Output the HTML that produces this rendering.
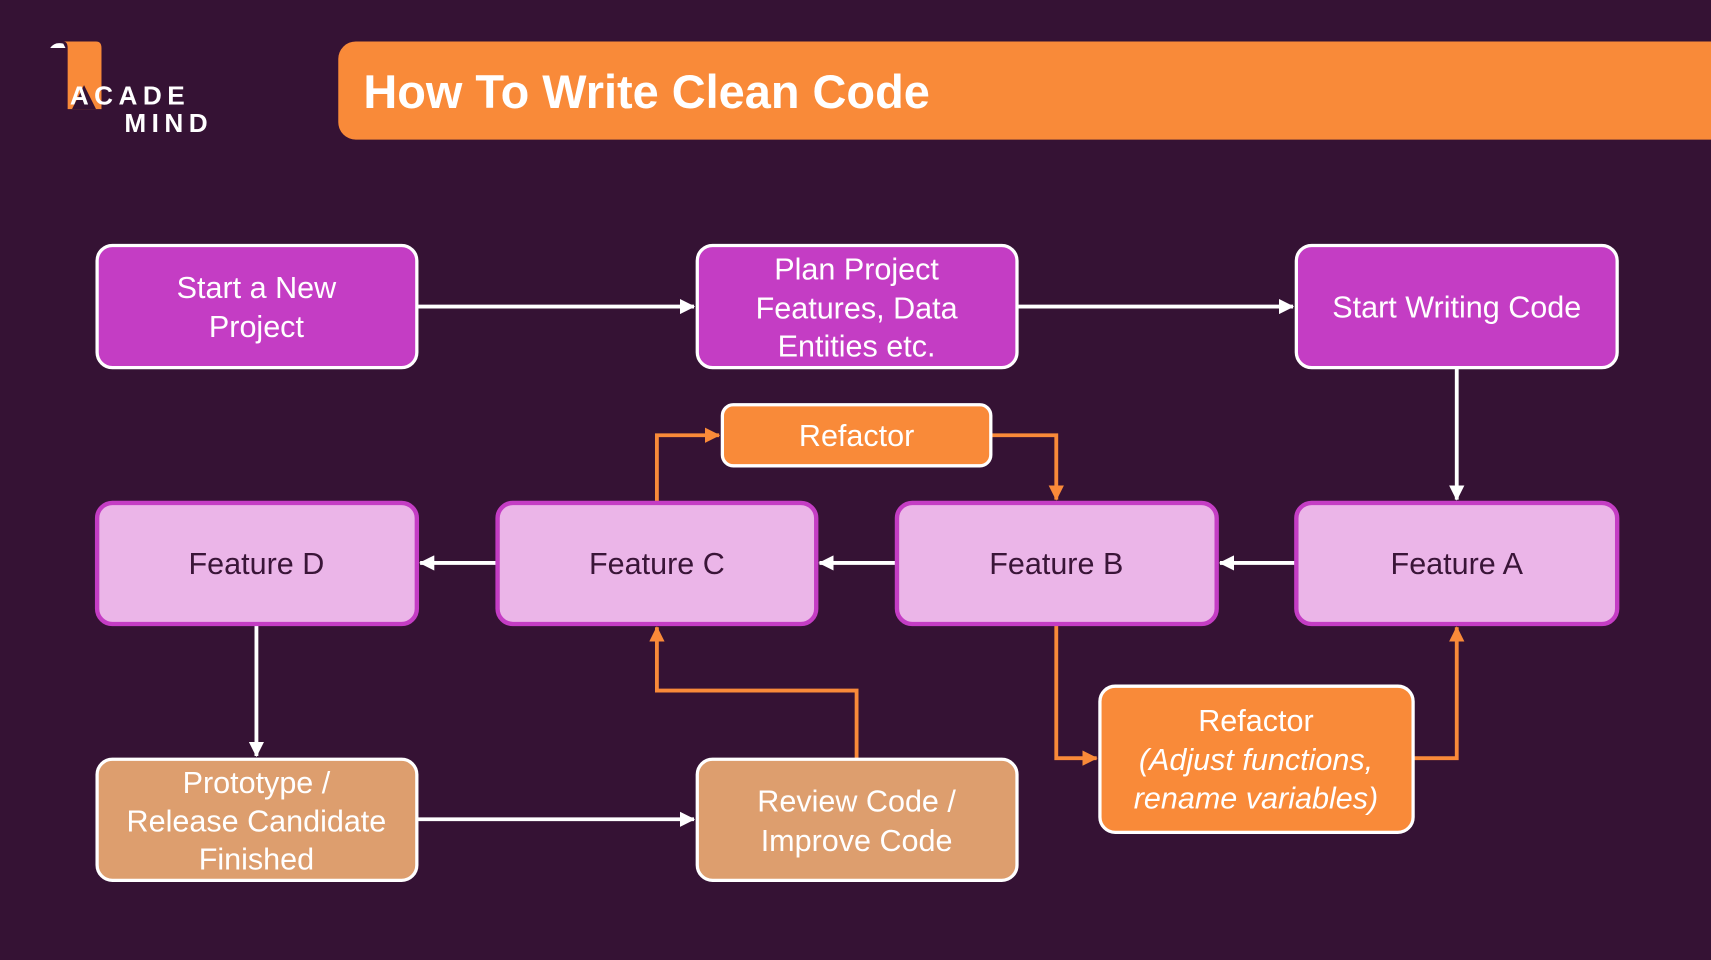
<!DOCTYPE html>
<html><head><meta charset="utf-8"><style>
html,body{margin:0;padding:0;background:#351234;}
svg{display:block}
text{font-family:"Liberation Sans",sans-serif;}
</style></head><body>
<svg width="1711" height="960" viewBox="0 0 1568 880" preserveAspectRatio="none" xmlns="http://www.w3.org/2000/svg">
<defs>
<marker id="aW" markerWidth="14" markerHeight="14" refX="13" refY="7" orient="auto" markerUnits="userSpaceOnUse"><path d="M0,0 L14,7 L0,14 z" fill="#fff"/></marker>
<marker id="aO" markerWidth="14" markerHeight="14" refX="13" refY="7" orient="auto" markerUnits="userSpaceOnUse"><path d="M0,0 L14,7 L0,14 z" fill="#f98a39"/></marker>
</defs>
<rect width="1568" height="880" fill="#351234"/>
<!-- logo -->
<path d="M58,38 L88,38 Q93,38 93,44 L93,100 L62,100 L62,44 Q62,38 58,38 Z" fill="#f98a39"/>
<path d="M46,44 Q50,38 58,40 L60,44 Z" fill="#fff"/>
<path d="M66,100 L77,78 L88,100 Z" fill="#351234"/>
<text x="64" y="96" font-size="24" font-weight="bold" fill="#fff" letter-spacing="5">ACADE</text>
<text x="114" y="121" font-size="24" font-weight="bold" fill="#fff" letter-spacing="5">MIND</text>
<!-- title -->
<rect x="310" y="38" width="1300" height="90" rx="16" fill="#f98a39"/>
<text x="333" y="99" font-size="43" font-weight="bold" fill="#fff">How To Write Clean Code</text>
<g stroke="#fff" stroke-width="3.5" fill="none">
<line x1="382" y1="281" x2="636" y2="281" marker-end="url(#aW)"/>
<line x1="932" y1="281" x2="1185" y2="281" marker-end="url(#aW)"/>
<line x1="1335" y1="337" x2="1335" y2="458" marker-end="url(#aW)"/>
<line x1="1188" y1="516" x2="1118" y2="516" marker-end="url(#aW)"/>
<line x1="822" y1="516" x2="751" y2="516" marker-end="url(#aW)"/>
<line x1="456" y1="516" x2="385" y2="516" marker-end="url(#aW)"/>
<line x1="235" y1="572" x2="235" y2="693" marker-end="url(#aW)"/>
<line x1="382" y1="751" x2="636" y2="751" marker-end="url(#aW)"/>
</g>
<g stroke="#f98a39" stroke-width="3.5" fill="none">
<polyline points="602,461 602,399 659,399" marker-end="url(#aO)"/>
<polyline points="908,399 968,399 968,458" marker-end="url(#aO)"/>
<polyline points="968,572 968,695 1005,695" marker-end="url(#aO)"/>
<polyline points="1295,695 1335,695 1335,575" marker-end="url(#aO)"/>
<polyline points="785,696 785,633 602,633 602,575" marker-end="url(#aO)"/>
</g>
<g stroke="#fff" stroke-width="3">
<rect x="89" y="225" width="293" height="112" rx="14" fill="#c43dc4"/>
<rect x="639" y="225" width="293" height="112" rx="14" fill="#c43dc4"/>
<rect x="1188" y="225" width="294" height="112" rx="14" fill="#c43dc4"/>
<rect x="662" y="371" width="246" height="56" rx="10" fill="#f98a39"/>
<rect x="89" y="696" width="293" height="111" rx="14" fill="#dd9e6e"/>
<rect x="639" y="696" width="293" height="111" rx="14" fill="#dd9e6e"/>
<rect x="1008" y="629" width="287" height="134" rx="14" fill="#f98a39"/>
</g>
<g stroke="#c43dc4" stroke-width="4" fill="#ebb5e8">
<rect x="89" y="461" width="293" height="111" rx="14"/>
<rect x="456" y="461" width="292" height="111" rx="14"/>
<rect x="822" y="461" width="293" height="111" rx="14"/>
<rect x="1188" y="461" width="294" height="111" rx="14"/>
</g>
<g font-size="28" fill="#fff" text-anchor="middle">
<text x="235" y="273">Start a New</text><text x="235" y="309">Project</text>
<text x="785" y="256">Plan Project</text><text x="785" y="292">Features, Data</text><text x="785" y="327">Entities etc.</text>
<text x="1335" y="291">Start Writing Code</text>
<text x="785" y="409">Refactor</text>
<text x="235" y="727">Prototype /</text><text x="235" y="762">Release Candidate</text><text x="235" y="797">Finished</text>
<text x="785" y="744">Review Code /</text><text x="785" y="780">Improve Code</text>
<text x="1151" y="670">Refactor</text>
<text x="1151" y="706" font-style="italic">(Adjust functions,</text>
<text x="1151" y="741" font-style="italic">rename variables)</text>
</g>
<g font-size="28" fill="#3a1538" text-anchor="middle">
<text x="235" y="526">Feature D</text>
<text x="602" y="526">Feature C</text>
<text x="968" y="526">Feature B</text>
<text x="1335" y="526">Feature A</text>
</g>
</svg>
</body></html>
